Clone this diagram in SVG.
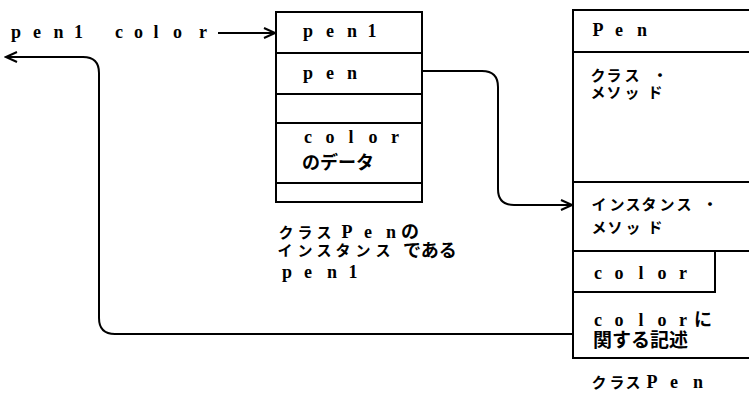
<svg xmlns="http://www.w3.org/2000/svg" width="749" height="396" viewBox="0 0 749 396">
<defs>
<style>
.box{fill:none;stroke:#000;stroke-width:2}
.ln{stroke:#000;stroke-width:2;fill:none}
.conn{stroke:#000;stroke-width:2;fill:none}
.t{font-family:"Liberation Serif","Noto Sans CJK JP",serif;font-weight:bold;font-size:18px;fill:#000;text-anchor:middle}
.j{font-family:"Noto Sans CJK JP",sans-serif;font-weight:bold;font-size:15px;fill:#000;text-anchor:middle}
.jb{font-family:"Noto Sans CJK JP",sans-serif;font-weight:bold;font-size:18px;fill:#000;text-anchor:start}
</style>
<marker id="ah" markerUnits="userSpaceOnUse" markerWidth="14" markerHeight="12" refX="12" refY="6" orient="auto">
<path d="M1,1 L12,6 L1,11" fill="none" stroke="#000" stroke-width="2"/>
</marker>
</defs>
<rect width="749" height="396" fill="#fff"/>

<g id="label-top">
<text class="t" x="16 37 58.5 78.5 98 119 138.5 156 177.5 203" y="38">pen1 color</text>
</g>

<g id="instance">
<rect class="box" x="276" y="12" width="146" height="190"/>
<line class="ln" x1="276" y1="53" x2="422" y2="53"/>
<line class="ln" x1="276" y1="94" x2="422" y2="94"/>
<line class="ln" x1="276" y1="123" x2="422" y2="123"/>
<line class="ln" x1="276" y1="183" x2="422" y2="183"/>
<text class="t" x="308 330 352 372" y="37">pen1</text>
<text class="t" x="308 330 352" y="79">pen</text>
<text class="t" x="308 330 351 373 395" y="143">color</text>
<text class="jb" x="302" y="169">のデータ</text>
</g>

<g id="instance-caption">
<text class="t" y="238"><tspan class="j" x="286 305 324">クラス</tspan><tspan x="347 368 391">Pen</tspan><tspan class="jb" x="401">の</tspan></text>
<text class="j" x="285 305 324 343 363 383" y="256">インスタンス</text>
<text class="jb" x="403" y="257">である</text>
<text class="t" x="287 308 332 353" y="278">pen1</text>
</g>

<g id="class-pen">
<path class="ln" d="M760,10 H573 V358 H760"/>
<line class="ln" x1="573" y1="52" x2="760" y2="52"/>
<line class="ln" x1="573" y1="182" x2="760" y2="182"/>
<line class="ln" x1="573" y1="251" x2="760" y2="251"/>
<path class="ln" d="M573,292 H715 V251"/>
<text class="t" x="598 619 642" y="36">Pen</text>
<text class="j" x="598 614 632 660" y="81">クラス・</text>
<text class="j" x="598 614 632 655" y="98">メソッド</text>
<text class="j" x="599 617 633 649 667 684 710" y="210">インスタンス・</text>
<text class="j" x="599 615 633 655" y="233">メソッド</text>
<text class="t" x="598 619 641 662 683" y="279">color</text>
<text class="t" y="326"><tspan x="598 619 641 662 683">color</tspan><tspan class="jb" x="694">に</tspan></text>
<text class="jb" style="font-size:19px" x="593" y="347">関する記述</text>
<text class="t" y="388"><tspan class="j" x="599 617 633">クラス</tspan><tspan x="652 674 698">Pen</tspan></text>
</g>

<g id="connectors">
<line class="conn" x1="218" y1="33" x2="275" y2="33" marker-end="url(#ah)"/>
<path class="conn" d="M422,71 H482 Q498,71 498,87 V189 Q498,205 514,205 H572" marker-end="url(#ah)"/>
<path class="conn" d="M573,334 H115 Q99,334 99,318 V73 Q99,57 83,57 H6" marker-end="url(#ah)"/>
</g>
</svg>
